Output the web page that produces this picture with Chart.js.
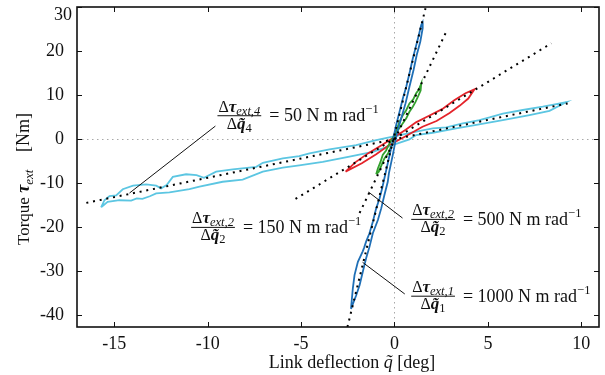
<!DOCTYPE html>
<html><head><meta charset="utf-8">
<script src="https://cdn.jsdelivr.net/npm/chart.js@4/dist/chart.umd.min.js"></script>
<style>html,body{margin:0;padding:0;background:#fff}</style>
</head><body>
<canvas id="c" width="605" height="375"></canvas>
<script>
// ---- data (x: deg, y: Nm) ----
const xRange = [-17, 10.95];
const yRange = [-42.7, 30];
const xTickStep = 5;
const yTickStep = 10;

// dotted fitted stiffness lines (endpoints)
const fit1000 = [[-2.52,-42.7],[1.66,29.7]];
const fit500  = [[-1.87,-16.8],[2.82,24.8]];
const fit150  = [[-5.3,-13.6],[8.4,21.75]];
const fit50   = [[-16.5,-14.5],[9.27,8.1]];

// hysteresis loops: two branches each
const loop50Upper = [[-15.71,-15.5],[-15.53,-13.9],[-15.26,-12.95],[-14.9,-12.8],[-14.55,-11.4],[-14.0,-10.6],[-13.3,-10.3],[-12.76,-10.6],[-12.5,-11.2],[-12.2,-10.45],[-11.87,-8.6],[-11.16,-8.0],[-10.6,-8.2],[-10.2,-8.8],[-9.55,-7.4],[-8.66,-6.9],[-7.4,-6.3],[-7.05,-5.4],[-5.98,-4.4],[-5.1,-3.9],[-4.55,-3.25],[-3.48,-2.35],[-2.05,-1.36],[-0.98,-0.23],[-0.09,0.53],[1.16,1.67],[2.05,2.42],[2.77,2.65],[3.66,3.56],[4.55,4.3],[5.09,4.9],[5.8,5.8],[6.87,6.6],[7.94,7.35],[8.66,7.95],[9.2,8.4]];
const loop50Lower = [[-15.71,-15.5],[-15.36,-14.25],[-14.73,-13.9],[-14.1,-14.0],[-13.8,-13.5],[-13.5,-13.6],[-13.1,-13.0],[-12.76,-12.35],[-12.05,-12.1],[-10.98,-11.4],[-10.44,-10.8],[-9.2,-9.7],[-8.13,-9.2],[-7.05,-7.4],[-5.98,-6.5],[-5.1,-6.0],[-3.84,-5.2],[-2.41,-4.0],[-1.16,-2.9],[0.09,-1.1],[0.8,-0.07],[1.16,0.9],[2.05,1.43],[3.3,2.42],[4.38,3.2],[5.8,4.3],[7.23,5.45],[8.3,6.4],[9.2,8.4]];

const loop150Upper = [[-2.62,-7.4],[-2.1,-5.3],[-1.4,-3.2],[-0.65,-1.3],[-0.1,0.2],[0.6,2.1],[1.15,3.8],[1.85,5.3],[2.55,6.8],[3.2,8.8],[3.8,10.4],[4.28,11.3]];
const loop150Lower = [[-2.62,-7.4],[-1.75,-5.5],[-1.0,-3.5],[-0.3,-1.4],[0.45,0.3],[1.5,2.8],[2.25,4.1],[2.95,5.9],[3.5,7.6],[3.95,9.2],[4.28,11.3]];

const loop500Left  = [[-0.98,-8.0],[-0.89,-6.7],[-0.75,-5.2],[-0.63,-3.6],[-0.45,-2.6],[-0.27,-1.0],[-0.05,0.6],[0.09,2.0],[0.3,4.2],[0.45,5.45],[0.62,6.5],[0.8,8.1],[1.0,9.0],[1.16,10.4],[1.3,11.2],[1.43,12.6]];
const loop500Right = [[-0.98,-8.0],[-0.84,-7.4],[-0.7,-6.0],[-0.54,-4.4],[-0.35,-3.3],[-0.18,-1.75],[0.0,0.2],[0.18,2.0],[0.4,3.3],[0.63,4.7],[0.8,6.2],[0.98,7.35],[1.12,8.4],[1.25,9.6],[1.4,11.0],[1.43,12.6]];

const loop1000Left  = [[-2.33,-38.6],[-2.23,-33.9],[-2.14,-30.9],[-1.96,-27.9],[-1.70,-25.5],[-1.62,-24.6],[-1.52,-23.3],[-1.34,-21.4],[-1.16,-18.8],[-0.98,-15.75],[-0.80,-13.5],[-0.66,-11.2],[-0.54,-8.9],[-0.36,-5.5],[-0.18,-2.1],[0.09,3.2],[0.27,6.2],[0.45,9.25],[0.63,11.9],[0.80,14.9],[0.98,18.3],[1.12,20.6],[1.30,23.6],[1.43,25.9],[1.50,26.5]];
const loop1000Right = [[-2.33,-38.6],[-2.05,-35.5],[-1.87,-33.2],[-1.70,-30.2],[-1.52,-27.1],[-1.34,-24.5],[-1.16,-21.4],[-0.89,-18.4],[-0.71,-15.75],[-0.54,-12.7],[-0.36,-9.7],[-0.30,-7.8],[-0.09,-3.6],[0.13,1.3],[0.36,4.7],[0.59,8.1],[0.80,11.9],[1.02,15.7],[1.19,19.1],[1.38,22.1],[1.52,25.2],[1.50,26.5]];

// annotation labels: stiffness, joint index, anchor (bar start, data coords), optional leader line
const annStiffness = [50, 150, 500, 1000];
const annIndex     = [4, 2, 2, 1];
const annAnchor    = [[-9.48,5.3],[-10.89,-20.07],[0.894,-18.25],[0.894,-35.7]];
const annLeader    = [[[-9.59,2.95],[-14.19,-12.27]], null, [[-1.39,-12.05],[0.43,-17.95]], [[-1.71,-28.0],[0.55,-35.2]]];

const COL_LIGHTBLUE = '#5cc6e2';
const COL_RED = '#e4232a';
const COL_GREEN = '#34a12e';
const COL_BLUE = '#1f6fb6';
const SERIF = "'Liberation Serif', 'Times New Roman', serif";

const toPts = a => a.map(p => ({x:p[0], y:p[1]}));
const loopPts = (a, b) => toPts(a.concat(b.slice().reverse()));

function fitDs(a){ return {data:toPts(a), borderColor:'#000', borderWidth:2, borderDash:[2,4.8], borderCapStyle:'butt', pointRadius:0, showLine:true, fill:false}; }
function loopDs(a,b,c){ return {data:loopPts(a,b), borderColor:c, borderWidth:1.8, pointRadius:0, showLine:true, fill:false, tension:0}; }

function runs(ctx, x, y, parts, draw){
  let cx = x;
  for (const r of parts){ ctx.font = r.f; if (draw) ctx.fillText(r.t, cx, y + (r.dy||0)); cx += ctx.measureText(r.t).width; }
  return cx - x;
}

const decor = {
  id:'decor',
  beforeDatasetsDraw(chart){
    const {ctx, chartArea:a, scales:{x, y}} = chart;
    ctx.save();
    ctx.strokeStyle = '#a8a8a8'; ctx.lineWidth = 1; ctx.setLineDash([1.5,3.5]);
    const x0 = Math.round(x.getPixelForValue(0))+0.5, y0 = Math.round(y.getPixelForValue(0))+0.5;
    ctx.beginPath(); ctx.moveTo(x0, a.top); ctx.lineTo(x0, a.bottom); ctx.stroke();
    ctx.beginPath(); ctx.moveTo(a.left, y0); ctx.lineTo(a.right, y0); ctx.stroke();
    ctx.restore();
  },
  afterDraw(chart){
    const {ctx, chartArea:a, scales:{x, y}} = chart;
    ctx.save();
    ctx.fillStyle = '#111'; ctx.strokeStyle = '#111';
    // inward ticks
    ctx.lineWidth = 1; ctx.setLineDash([]);
    const TL = 5;
    x.ticks.forEach(t => { const px = Math.round(x.getPixelForValue(t.value))+0.5;
      ctx.beginPath(); ctx.moveTo(px, a.bottom); ctx.lineTo(px, a.bottom-TL); ctx.moveTo(px, a.top); ctx.lineTo(px, a.top+TL); ctx.stroke(); });
    y.ticks.forEach(t => { const py = Math.round(y.getPixelForValue(t.value))+0.5;
      ctx.beginPath(); ctx.moveTo(a.left, py); ctx.lineTo(a.left+TL, py); ctx.moveTo(a.right, py); ctx.lineTo(a.right-TL, py); ctx.stroke(); });
    // box
    ctx.lineWidth = 1.6;
    ctx.strokeRect(a.left, a.top, a.right-a.left, a.bottom-a.top);
    // top y label (shifted down like the reference)
    ctx.font = '18px '+SERIF; ctx.textAlign = 'right'; ctx.textBaseline = 'middle';
    ctx.fillText(String(yRange[1]), a.left-5, a.top+8);
    ctx.textAlign = 'left'; ctx.textBaseline = 'alphabetic';
    // x title
    const xt = [{t:'Link deflection ', f:'18px '+SERIF},{t:'q\u0303', f:'italic 18px '+SERIF},{t:' [deg]', f:'18px '+SERIF}];
    const xw = runs(ctx,0,0,xt,false);
    runs(ctx, 352 - xw/2, 368, xt, true);
    // y title (rotated)
    ctx.save();
    ctx.translate(29, 245); ctx.rotate(-Math.PI/2);
    runs(ctx, 0, 0, [{t:'Torque ', f:'17px '+SERIF},{t:'\u03C4', f:'bold italic 18px '+SERIF},{t:'ext', f:'italic 13px '+SERIF, dy:4}], true);
    ctx.font = '18px '+SERIF; ctx.textAlign = 'right';
    ctx.fillText('[Nm]', 132, 0);
    ctx.restore();
    ctx.textAlign = 'left';
    // annotations
    annStiffness.forEach((k, i) => {
      const idx = annIndex[i];
      const L = annLeader[i];
      if (L){
        ctx.lineWidth = 1; ctx.beginPath();
        ctx.moveTo(x.getPixelForValue(L[0][0]), y.getPixelForValue(L[0][1]));
        ctx.lineTo(x.getPixelForValue(L[1][0]), y.getPixelForValue(L[1][1])); ctx.stroke();
      }
      const bx = x.getPixelForValue(annAnchor[i][0]), by = y.getPixelForValue(annAnchor[i][1]);
      const num = [{t:'\u0394', f:'16px '+SERIF},{t:'\u03C4', f:'bold italic 17px '+SERIF},{t:'ext,'+idx, f:'italic 12.5px '+SERIF, dy:3}];
      const den = [{t:'\u0394', f:'16px '+SERIF},{t:'q\u0303', f:'bold italic 17px '+SERIF},{t:String(idx), f:'12.5px '+SERIF, dy:3}];
      const wn = runs(ctx,0,0,num,false), wd = runs(ctx,0,0,den,false);
      const W = Math.max(wn, wd) + 2;
      runs(ctx, bx + (W-wn)/2, by - 4, num, true);
      runs(ctx, bx + (W-wd)/2, by + 13, den, true);
      ctx.fillRect(bx, by - 0.5, W, 1);
      runs(ctx, bx + W + 8, by + 5.5, [{t:'= '+k+' N m rad', f:'18px '+SERIF},{t:'\u22121', f:'12.5px '+SERIF, dy:-8}], true);
    });
    ctx.restore();
  }
};

new Chart(document.getElementById('c'), {
  type:'scatter',
  data:{ datasets:[
    fitDs(fit1000), fitDs(fit500), fitDs(fit150), fitDs(fit50),
    loopDs(loop1000Left, loop1000Right, COL_BLUE),
    loopDs(loop500Left, loop500Right, COL_GREEN),
    loopDs(loop150Upper, loop150Lower, COL_RED),
    loopDs(loop50Upper, loop50Lower, COL_LIGHTBLUE)
  ]},
  options:{
    responsive:false, animation:false, devicePixelRatio:1, events:[],
    layout:{padding:{top:7, right:6, left:0, bottom:0}},
    plugins:{legend:{display:false}, tooltip:{enabled:false}},
    scales:{
      x:{ type:'linear', min:xRange[0], max:xRange[1],
        grid:{display:false}, border:{display:false},
        ticks:{stepSize:xTickStep, includeBounds:false, padding:-2, color:'#111', font:{family:SERIF, size:18}, maxRotation:0},
        afterFit(s){ s.height = 48; s.paddingLeft = 0; s.paddingRight = 0; } },
      y:{ type:'linear', min:yRange[0], max:yRange[1],
        grid:{display:false}, border:{display:false},
        ticks:{stepSize:yTickStep, includeBounds:false, padding:5, color:'#111', font:{family:SERIF, size:18},
          callback:v => v === yRange[1] ? '' : String(v)},
        afterFit(s){ s.width = 77; s.paddingTop = 0; s.paddingBottom = 0; } }
    }
  },
  plugins:[decor]
});
</script>
</body></html>
